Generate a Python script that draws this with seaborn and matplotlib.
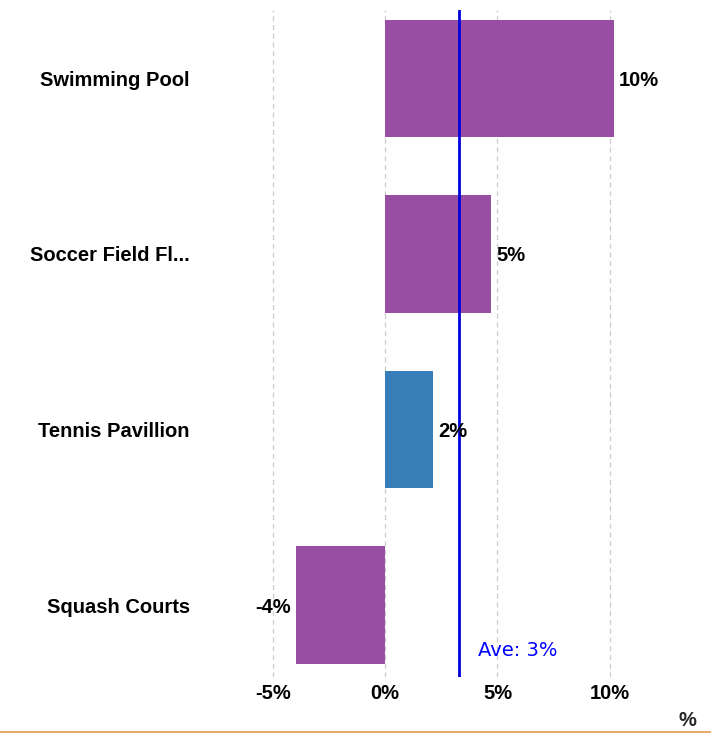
import pandas as pd
import matplotlib.pyplot as plt
import seaborn as sns
from matplotlib.lines import Line2D

facilities = ['Swimming Pool', 'Soccer Field Fl...', 'Tennis Pavillion', 'Squash Courts']
change = [10.18, 4.71, 2.13, -3.96]
bar_colors = ['#984EA3', '#984EA3', '#377EB8', '#984EA3']
average = 3.27
ticks = [-5, 0, 5, 10]

df = pd.DataFrame({'facility': facilities, 'change': change})

sns.set_style('white')
plt.rcParams['font.family'] = ['Liberation Sans', 'DejaVu Sans']
fig = plt.figure(figsize=(7.11, 7.35), dpi=100)
ax = fig.add_axes([0.3235, 0.0789, 0.6765, 0.9075])

sns.barplot(data=df, y='facility', x='change', hue='facility', palette=bar_colors,
            orient='h', width=0.67, legend=False, ax=ax, saturation=1, linewidth=0)

fs = 14.5
ax.set_xlim(-6.9, 14.5)
ax.set_ylim(3.41, -0.39)
ax.set_xticks(ticks)
ax.set_xticklabels([f'{t}%' for t in ticks], fontsize=fs, fontweight='bold', color='black')
ax.tick_params(axis='x', length=3, color='#F5A040', pad=2)
ax.tick_params(axis='y', length=0, pad=29)
for lbl in ax.get_yticklabels():
    lbl.set_fontweight('bold')
    lbl.set_fontsize(fs)
    lbl.set_color('black')
ax.set_xlabel('')
ax.set_ylabel('')
for s in ax.spines.values():
    s.set_visible(False)
ax.grid(axis='x', color='#CCCCCC', linestyle=(0, (4, 3)), linewidth=0.9)
ax.set_axisbelow(True)

for i, v in enumerate(change):
    off = 0.22 if v >= 0 else -0.25
    ax.text(v + off, i, f'{round(v):d}%', va='center_baseline', ha='left' if v >= 0 else 'right',
            fontsize=fs, fontweight='bold', color='black')

ax.axvline(average, color='#0000DD', linewidth=2)
ax.text(average + 0.85, 3.25, f'Ave: {round(average):d}%', color='#0000FF', fontsize=14,
        va='center_baseline', ha='left', family='DejaVu Sans')

fig.text(0.967, 0.02, '%', fontsize=fs, fontweight='bold', ha='center', va='center')
fig.add_artist(Line2D([0, 1], [0.004, 0.004], color='#E39A4E', linewidth=1.2,
                      transform=fig.transFigure))

fig.savefig('out.png', dpi=100)
